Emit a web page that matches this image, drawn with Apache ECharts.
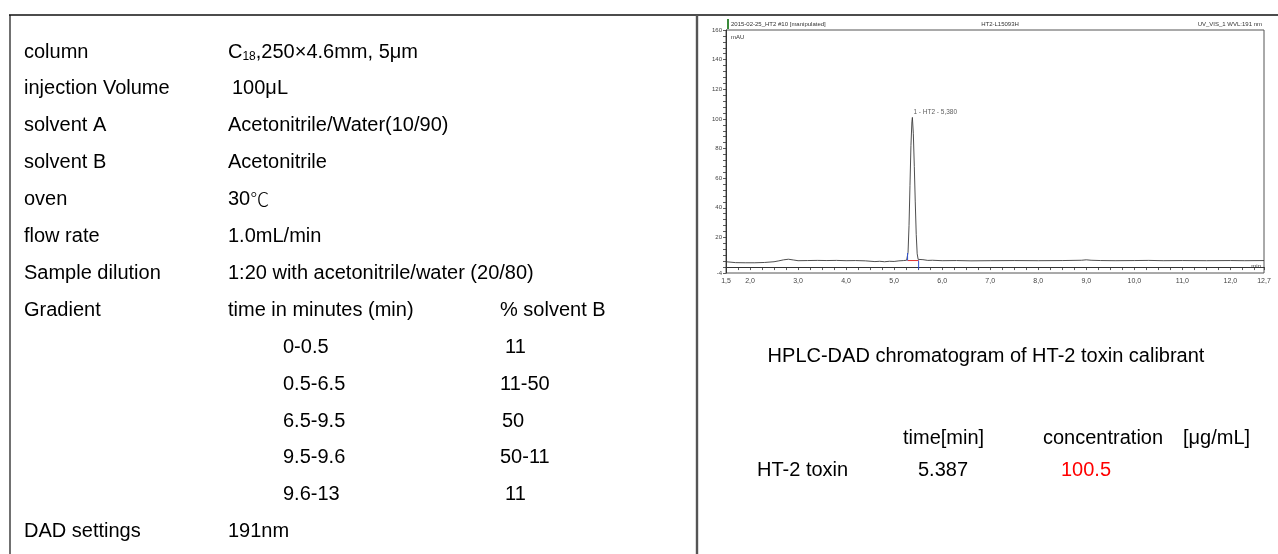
<!DOCTYPE html>
<html><head><meta charset="utf-8">
<script src="https://cdn.jsdelivr.net/npm/echarts@6/dist/echarts.min.js"></script>
<style>html,body{margin:0;padding:0;background:#fff}#c{width:1278px;height:554px}</style>
</head><body><div id="c"></div>
<script>
// ---- table data ----
const paramLabels = ['column', 'injection Volume', 'solvent A', 'solvent B', 'oven', 'flow rate', 'Sample dilution', 'Gradient'];
const paramValues = ['C{sub|18},250×4.6mm, 5μm', '100μL', 'Acetonitrile/Water(10/90)', 'Acetonitrile', '30℃', '1.0mL/min', '1:20 with acetonitrile/water (20/80)', 'time in minutes (min)'];
const gradientHeaderB = '% solvent B';
const gradientTimes = ['0-0.5', '0.5-6.5', '6.5-9.5', '9.5-9.6', '9.6-13'];
const gradientB = ['11', '11-50', '50', '50-11', '11'];
const detectorLabel = 'DAD settings';
const detectorValue = '191nm';

// ---- chromatogram data (time in min, absorbance in mAU) ----
const chromTime = [1.5, 1.7, 1.9, 2.1, 2.3, 2.5, 2.6, 2.7, 2.8, 2.9, 3.0, 3.2, 3.4, 3.6, 3.8, 4.0, 4.2, 4.4, 4.6, 4.7, 4.8, 4.9, 5.0, 5.1, 5.2, 5.26, 5.29, 5.31, 5.33, 5.35, 5.37, 5.38, 5.40, 5.42, 5.44, 5.46, 5.48, 5.50, 5.53, 5.6, 5.7, 5.8, 6.0, 6.3, 6.6, 7.0, 7.5, 8.0, 8.5, 8.9, 9.0, 9.1, 9.3, 9.6, 10.0, 10.3, 10.6, 11.0, 11.5, 12.0, 12.3, 12.7];
const chromAbs  = [3.6, 3.0, 2.9, 2.9, 3.1, 3.6, 4.2, 4.9, 5.3, 4.8, 4.3, 4.4, 4.5, 4.4, 4.5, 4.3, 4.4, 4.2, 3.7, 3.9, 3.6, 3.9, 3.8, 4.2, 4.4, 4.6, 10, 28, 55, 82, 98, 101, 90, 68, 44, 22, 9, 5.2, 4.8, 5.0, 4.5, 4.6, 4.3, 4.4, 4.2, 4.3, 4.4, 4.3, 4.4, 4.6, 4.9, 4.6, 4.4, 4.3, 4.4, 4.5, 4.3, 4.4, 4.3, 4.4, 4.3, 4.4];
const peakName = '1 - HT2 - 5,380';
const peakApex = [5.38, 101];
const peakBaseline = [[5.28, 4.4], [5.51, 4.4]];
const peakStartMark = [[5.28, 4.4], [5.28, 9.5]];
const peakEndMark = [[5.51, 4.4], [5.51, -1.5]];
const chromHeader = ['2015-02-25_HT2 #10 [manipulated]', 'HT2-L15093H', 'UV_VIS_1 WVL:191 nm'];

// ---- results ----
const caption = 'HPLC-DAD chromatogram of HT-2 toxin calibrant';
const resultHeaders = ['time[min]', 'concentration', '[μg/mL]'];
const resultName = 'HT-2 toxin';
const resultTime = '5.387';
const resultConc = '100.5';

// ---- layout ----
const FONT = '"Liberation Sans", Arial, sans-serif';
const NARROW = '"Liberation Sans Narrow", "Liberation Sans", Arial, sans-serif';
const CJK = '"Noto Sans CJK SC", sans-serif';
const FS = 20;
const rowY0 = 52, rowStep = 36.9;
const labelX = 24, valueX = 228;
const valueXs = [228, 232, 228, 228, 228, 228, 228, 228];
const gradTimeX = 283;
const gradBXs = [505, 500, 502, 500, 505];

const g = [];
function txt(x, y, s, opt) {
  opt = opt || {};
  g.push({type: 'text', x: x, y: y, silent: true, style: Object.assign({
    text: s, fill: '#000', font: FS + 'px ' + FONT, textVerticalAlign: 'middle', textAlign: 'left'
  }, opt)});
}
function line(x1, y1, x2, y2, w, c) {
  g.push({type: 'line', silent: true, shape: {x1: x1, y1: y1, x2: x2, y2: y2}, style: {stroke: c || '#000', lineWidth: w}});
}
// borders
line(9, 15, 1278, 15, 1.5, '#111');
line(10, 15, 10, 554, 1.2, '#111');
line(697, 15, 697, 554, 2.4, '#555');

paramLabels.forEach((l, i) => {
  const y = rowY0 + i * rowStep;
  txt(labelX, y, l);
  g.push({type: 'text', x: valueXs[i], y: y, silent: true, style: {
    text: paramValues[i].replace('℃', '{cjk|℃}'), fill: '#000', font: FS + 'px ' + FONT, textVerticalAlign: 'middle',
    rich: {
      sub: {fontSize: 12, fontFamily: FONT, padding: [9, 0, 0, 0]},
      cjk: {fontSize: 19, fontFamily: CJK, fontWeight: 300}
    }
  }});
});
txt(500, rowY0 + 7 * rowStep, gradientHeaderB);
gradientTimes.forEach((t, i) => {
  const y = rowY0 + (8 + i) * rowStep;
  txt(gradTimeX, y, t);
  txt(gradBXs[i], y, gradientB[i]);
});
txt(labelX, rowY0 + 13 * rowStep, detectorLabel);
txt(valueX, rowY0 + 13 * rowStep, detectorValue);

// chromatogram header
g.push({type: 'rect', silent: true, shape: {x: 727, y: 19, width: 2, height: 10}, style: {fill: '#3a8a3a'}});
txt(731, 24, chromHeader[0], {font: '6px ' + NARROW, fill: '#333'});
txt(1000, 24, chromHeader[1], {font: '6px ' + NARROW, fill: '#333', textAlign: 'center'});
txt(1262, 24, chromHeader[2], {font: '6px ' + NARROW, fill: '#333', textAlign: 'right'});
txt(731, 37, 'mAU', {font: '6px ' + NARROW, fill: '#333'});
txt(1261, 266, 'min', {font: '6px ' + NARROW, fill: '#333', textAlign: 'right'});

// results
txt(986, 356, caption, {textAlign: 'center'});
txt(903, 438, resultHeaders[0]);
txt(1043, 438, resultHeaders[1]);
txt(1183, 438, resultHeaders[2]);
txt(757, 470, resultName);
txt(918, 470, resultTime);
txt(1061, 470, resultConc, {fill: '#ff0000'});

const fmtX = v => {
  const r = Math.round(v * 10) / 10;
  if (Math.abs(r - 1.5) < 1e-6 || Math.abs(r - 12.7) < 1e-6 || Math.abs(v - Math.round(v)) < 1e-6) {
    return r.toFixed(1).replace('.', ',');
  }
  return '';
};

const chart = echarts.init(document.getElementById('c'), null, {renderer: 'canvas'});
chart.setOption({
  animation: false,
  backgroundColor: '#fff',
  grid: {left: 726, right: 14, top: 30, height: 243, show: true, borderColor: '#555', borderWidth: 1, backgroundColor: 'transparent'},
  xAxis: {
    type: 'value', min: 1.5, max: 12.7, interval: 0.25,
    axisLine: {show: true, lineStyle: {color: '#333', width: 1}},
    axisTick: {show: true, length: 3, lineStyle: {color: '#333', width: 0.8}},
    axisLabel: {fontSize: 7, color: '#444', fontFamily: NARROW, margin: 5, formatter: fmtX, showMaxLabel: true, showMinLabel: true, hideOverlap: false},
    splitLine: {show: false}
  },
  yAxis: {
    type: 'value', min: -4, max: 160, interval: 4,
    axisLine: {show: true, lineStyle: {color: '#333', width: 1}},
    axisTick: {show: true, length: 3, lineStyle: {color: '#333', width: 0.8}},
    axisLabel: {fontSize: 6, color: '#444', fontFamily: NARROW, margin: 4,
      formatter: v => {
        const r = Math.round(v);
        return (r === -4 || (r > 0 && r % 20 === 0)) ? String(r) : '';
      }},
    splitLine: {show: false}
  },
  series: [
    {type: 'line', data: chromTime.map((t, i) => [t, chromAbs[i]]), symbol: 'none', smooth: false,
      lineStyle: {color: '#3a3a3a', width: 0.9}, silent: true},
    {type: 'line', data: peakBaseline, symbol: 'none', lineStyle: {color: '#e03030', width: 1}, silent: true},
    {type: 'line', data: peakStartMark, symbol: 'none', lineStyle: {color: '#3050d0', width: 1}, silent: true},
    {type: 'line', data: peakEndMark, symbol: 'none', lineStyle: {color: '#3050d0', width: 1}, silent: true},
    {type: 'scatter', data: [peakApex], symbolSize: 0, silent: true,
      label: {show: true, position: 'right', distance: 1, offset: [0, -5], formatter: peakName, fontSize: 6.5, fontFamily: NARROW, color: '#333'}}
  ],
  graphic: g
});
</script></body></html>
